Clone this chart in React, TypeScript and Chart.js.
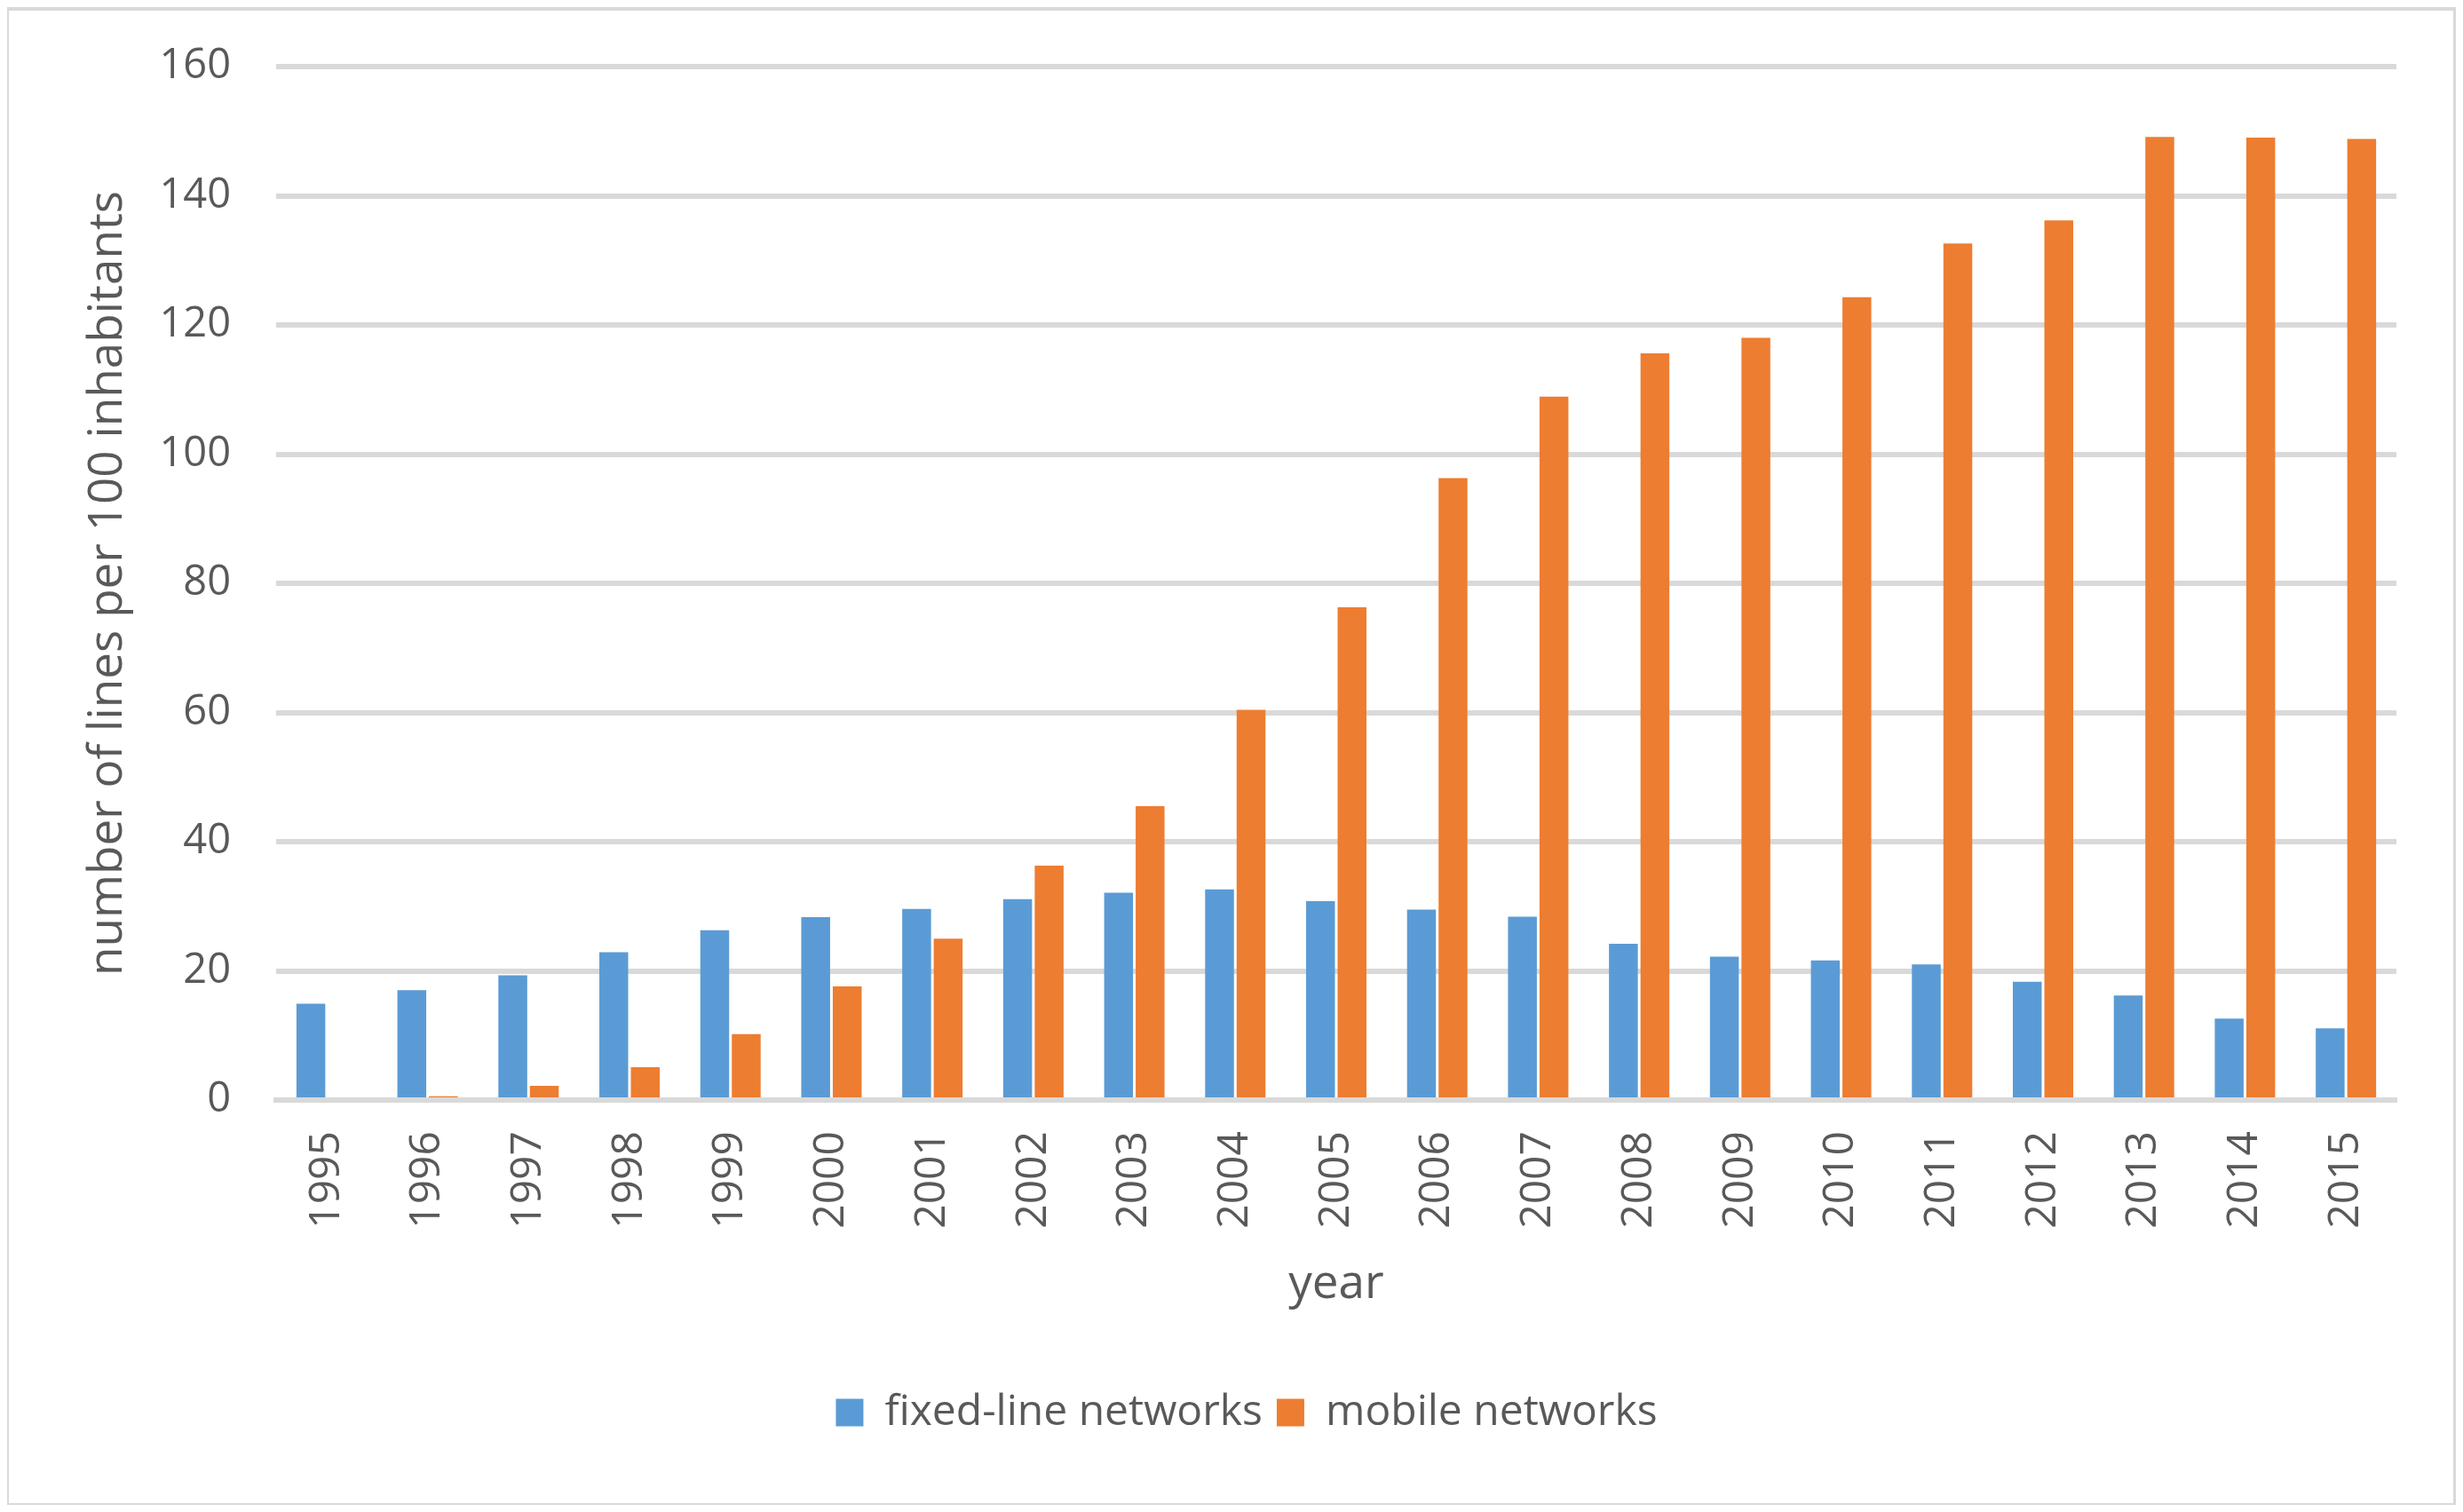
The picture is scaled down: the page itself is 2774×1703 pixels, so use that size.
import React, { useEffect, useRef } from "react";
import { Chart, registerables } from "chart.js";

Chart.register(...registerables);

const years: string[] = [
  "1995", "1996", "1997", "1998", "1999", "2000", "2001", "2002", "2003", "2004", "2005",
  "2006", "2007", "2008", "2009", "2010", "2011", "2012", "2013", "2014", "2015",
];

const fixedLine: number[] = [
  14.9, 17.0, 19.3, 22.9, 26.3, 28.3, 29.6, 31.1, 32.1, 32.6, 30.8,
  29.5, 28.4, 24.2, 22.2, 21.6, 21.0, 18.3, 16.2, 12.6, 11.1,
];

const mobile: number[] = [
  0, 0.6, 2.2, 5.1, 10.2, 17.6, 25.0, 36.3, 45.5, 60.4, 76.3,
  96.3, 108.9, 115.6, 118.0, 124.3, 132.6, 136.2, 149.1, 149.0, 148.8,
];

const seriesNames: string[] = ["fixed-line networks", "mobile networks"];
const xTitle = "year";
const yTitle = "number of lines per 100 inhabitants";

const W = 2758;
const H = 1687;
const TEXT = "#595959";
const GRID = "#d9d9d9";
const FONT = "'Open Sans', sans-serif";

export default function App() {
  const ref = useRef<HTMLCanvasElement | null>(null);

  useEffect(() => {
    if (!ref.current) return;
    Chart.defaults.font.family = FONT;
    const chart = new Chart(ref.current, {
      type: "bar",
      data: {
        labels: years,
        datasets: [
          {
            label: seriesNames[0],
            data: fixedLine,
            backgroundColor: "#5b9bd5",
            borderWidth: 0,
            categoryPercentage: 0.6245,
            barPercentage: 0.915,
          },
          {
            label: seriesNames[1],
            data: mobile,
            backgroundColor: "#ed7d31",
            borderWidth: 0,
            categoryPercentage: 0.6245,
            barPercentage: 0.915,
          },
        ],
      },
      options: {
        animation: false,
        responsive: false,
        devicePixelRatio: 1,
        layout: { padding: { left: 101, right: 67, top: 67, bottom: 70 } },
        plugins: {
          legend: {
            position: "bottom",
            labels: {
              boxWidth: 31,
              boxHeight: 31,
              padding: 16,
              color: TEXT,
              font: { family: FONT, size: 48 },
            },
          },
          tooltip: { enabled: false },
        },
        scales: {
          x: {
            grid: { display: false, drawTicks: false },
            border: { display: true, color: GRID, width: 6, z: 1 },
            ticks: {
              color: TEXT,
              font: { family: FONT, size: 48 },
              padding: 35,
              minRotation: 90,
              maxRotation: 90,
              autoSkip: false,
            },
            title: {
              display: true,
              text: xTitle,
              color: TEXT,
              font: { family: FONT, size: 53 },
              padding: { top: 0, bottom: 72 },
            },
            afterFit: (s: any) => {
              s.height = 312;
            },
          },
          y: {
            min: 0,
            max: 160,
            ticks: {
              stepSize: 20,
              padding: 30,
              color: TEXT,
              font: { family: FONT, size: 47 },
            },
            grid: {
              color: GRID,
              lineWidth: 6,
              drawTicks: true,
              tickLength: 21,
              tickColor: "rgba(0,0,0,0)",
            },
            border: { display: false },
            title: {
              display: true,
              text: yTitle,
              color: TEXT,
              font: { family: FONT, size: 53 },
              padding: { top: -19, bottom: 0 },
            },
            afterFit: (s: any) => {
              s.width = 202;
            },
          },
        },
      },
    } as any);
    return () => chart.destroy();
  }, []);

  return (
    <div style={{ position: "relative", width: W, height: H }}>
      <canvas ref={ref} width={W} height={H} style={{ display: "block", width: W, height: H }} />
      <div
        style={{
          position: "absolute",
          left: -3,
          top: -1,
          width: 2763,
          height: 1691,
          border: `5px solid ${GRID}`,
          boxSizing: "border-box",
          pointerEvents: "none",
        }}
      />
    </div>
  );
}
